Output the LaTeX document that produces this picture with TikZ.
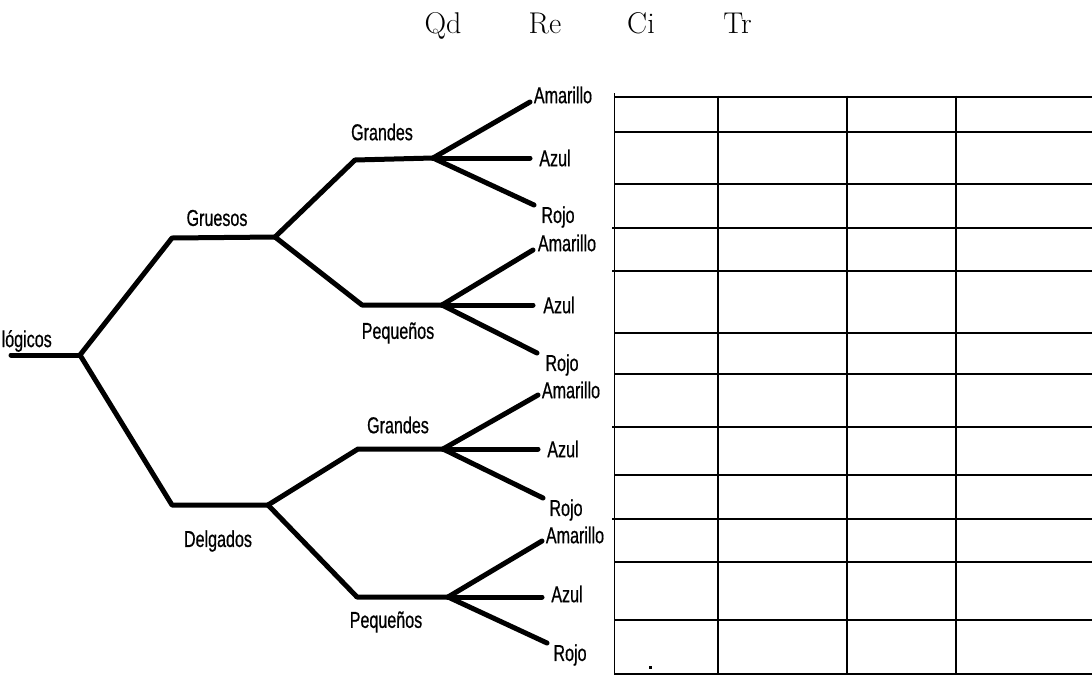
\documentclass[tikz,border=0pt]{standalone}
\usepackage{fontspec}
\newfontfamily\lblfont[FakeStretch=0.7,FakeBold=0.6]{Liberation Sans}
\begin{document}
\begin{tikzpicture}[x=1pt,y=-1pt,
  branch/.style={line width=5pt, line cap=round, line join=round},
  grid/.style={line width=1.7pt},
  lbl/.style={font=\lblfont\fontsize{23}{25}\selectfont, inner sep=0pt},
  head/.style={font=\fontsize{30}{34}\selectfont, inner sep=0pt, anchor=base}]
\useasboundingbox (0,0) rectangle (1092,675);
\clip (0,0) rectangle (1092,675);
% header
\node[head] (hqd) at (443,33) {Qd};
\node[head] (hre) at (545,33) {Re};
\node[head] (hci) at (641,33) {Ci};
\node[head] (htr) at (737.5,33) {Tr};
% tree coordinates
\coordinate (s) at (11,355);
\coordinate (r) at (80,355);
\coordinate (g1c) at (172,238);
\coordinate (g1) at (275,237);
\coordinate (d1c) at (172,505);
\coordinate (d1) at (268,505);
\coordinate (GGc) at (355,160);
\coordinate (GG) at (433,158);
\coordinate (GPc) at (362,305);
\coordinate (GP) at (442,305);
\coordinate (DGc) at (358,449);
\coordinate (DG) at (443,449);
\coordinate (DPc) at (357,597);
\coordinate (DP) at (448,597);
\coordinate (a1) at (530,102); \coordinate (b1) at (530,158); \coordinate (c1) at (534,205);
\coordinate (a2) at (533,250); \coordinate (b2) at (533,305); \coordinate (c2) at (537,353);
\coordinate (a3) at (538,395); \coordinate (b3) at (538,449); \coordinate (c3) at (543,498);
\coordinate (a4) at (542,541); \coordinate (b4) at (542,597); \coordinate (c4) at (547,643);
% branches
\draw[branch] (s) -- (r);
\draw[branch] (r) -- (g1c) -- (g1);
\draw[branch] (r) -- (d1c) -- (d1);
\draw[branch] (g1) -- (GGc) -- (GG);
\draw[branch] (g1) -- (GPc) -- (GP);
\draw[branch] (d1) -- (DGc) -- (DG);
\draw[branch] (d1) -- (DPc) -- (DP);
\draw[branch] (GG) -- (a1); \draw[branch] (GG) -- (b1); \draw[branch] (GG) -- (c1);
\draw[branch] (GP) -- (a2); \draw[branch] (GP) -- (b2); \draw[branch] (GP) -- (c2);
\draw[branch] (DG) -- (a3); \draw[branch] (DG) -- (b3); \draw[branch] (DG) -- (c3);
\draw[branch] (DP) -- (a4); \draw[branch] (DP) -- (b4); \draw[branch] (DP) -- (c4);
% labels
\node[lbl, anchor=east] (root) at (52,341) {lógicos};
\node[lbl] (lgru) at (217,218) {Gruesos};
\node[lbl] (ldel) at (218,541) {Delgados};
\node[lbl] (lgg) at (382,132) {Grandes};
\node[lbl] (lgp) at (398,333) {Pequeños};
\node[lbl] (ldg) at (398,425) {Grandes};
\node[lbl] (ldp) at (386,622) {Pequeños};
\node[lbl] (la1) at (563,95) {Amarillo};
\node[lbl] (lb1) at (555,158) {Azul};
\node[lbl] (lc1) at (558,217) {Rojo};
\node[lbl] (la2) at (567,243) {Amarillo};
\node[lbl] (lb2) at (559,305) {Azul};
\node[lbl] (lc2) at (562,365) {Rojo};
\node[lbl] (la3) at (571,390) {Amarillo};
\node[lbl] (lb3) at (563,449) {Azul};
\node[lbl] (lc3) at (566,510) {Rojo};
\node[lbl] (la4) at (575,535) {Amarillo};
\node[lbl] (lb4) at (567,594) {Azul};
\node[lbl] (lc4) at (570,655) {Rojo};
% table
\draw[grid] (614.5,93) -- (614.5,675);
\foreach \xx in {717.7,847,956} { \draw[grid] (\xx,95.5) -- (\xx,675); }
\foreach \yy in {96.7,131.7,184,333.3,374,475,561.7,620,674} { \draw[grid] (614.5,\yy) -- (1092,\yy); }
\foreach \yy in {228,270.7,426.7,519} { \draw[grid] (612,\yy) -- (1092,\yy); }
\fill (648.5,665.5) rectangle (651.5,668.5);
\end{tikzpicture}
\end{document}
